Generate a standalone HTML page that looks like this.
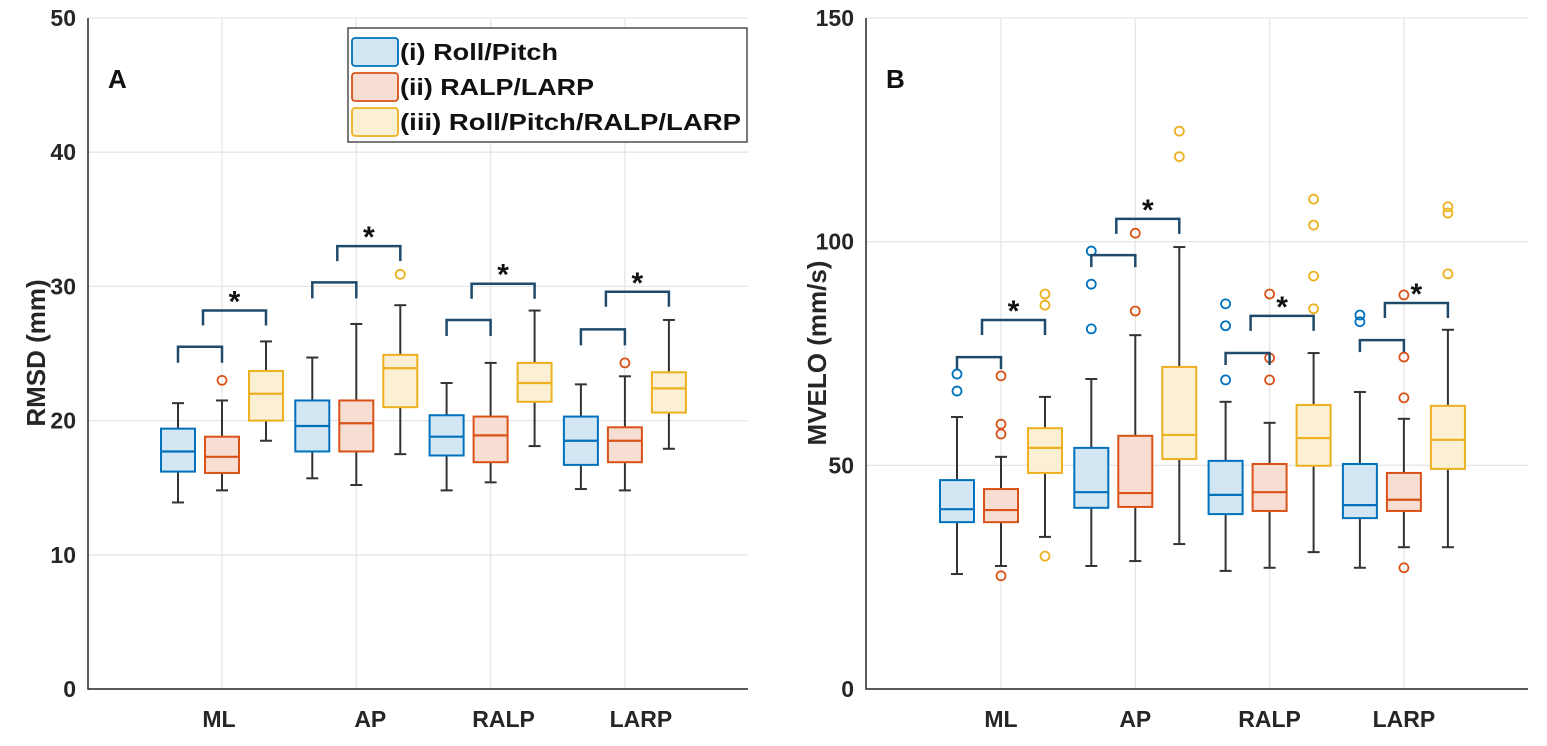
<!DOCTYPE html>
<html><head><meta charset="utf-8"><style>
body{margin:0;background:#fff;width:1547px;height:741px;overflow:hidden}
svg{font-family:"Liberation Sans",Arial,sans-serif}
</style></head><body>
<svg id="chart" width="1547" height="741" viewBox="0 0 1547 741"></svg>
<script>
const categories=["ML","AP","RALP","LARP"];
const groups=["(i) Roll/Pitch","(ii) RALP/LARP","(iii) Roll/Pitch/RALP/LARP"];
// Panel A RMSD: [whiskerLow,Q1,median,Q3,whiskerHigh] per category per group
const rmsdBlue=[[13.9,16.2,17.7,19.4,21.3],[15.7,17.7,19.6,21.5,24.7],[14.8,17.4,18.8,20.4,22.8],[14.9,16.7,18.5,20.3,22.7]];
const rmsdRed=[[14.8,16.1,17.3,18.8,21.5],[15.2,17.7,19.8,21.5,27.2],[15.4,16.9,18.9,20.3,24.3],[14.8,16.9,18.5,19.5,23.3]];
const rmsdYellow=[[18.5,20.0,22.0,23.7,25.9],[17.5,21.0,23.9,24.9,28.6],[18.1,21.4,22.8,24.3,28.2],[17.9,20.6,22.4,23.6,27.5]];
const rmsdOutBlue=[[],[],[],[]];
const rmsdOutRed=[[23.0],[],[],[24.3]];
const rmsdOutYellow=[[],[30.9],[],[]];
const rmsdSmallBracket=[25.5,30.3,27.5,26.8];
const rmsdBigBracket=[28.2,33.0,30.2,29.6];
// Panel B MVELO
const mveloBlue=[[25.7,37.3,40.2,46.7,60.8],[27.5,40.5,44.0,53.9,69.3],[26.4,39.1,43.4,51.0,64.2],[27.1,38.2,41.1,50.3,66.4]];
const mveloRed=[[27.5,37.3,40.0,44.7,51.9],[28.6,40.7,43.8,56.6,79.1],[27.1,39.8,44.0,50.3,59.5],[31.7,39.8,42.3,48.3,60.4]];
const mveloYellow=[[34.0,48.3,53.9,58.3,65.3],[32.4,51.4,56.8,72.0,98.8],[30.6,49.9,56.1,63.5,75.1],[31.7,49.2,55.7,63.3,80.3]];
const mveloOutBlue=[[70.4,66.6],[97.9,90.5,80.5],[86.1,81.2,69.1],[83.6,82.1]];
const mveloOutRed=[[70.0,59.2,57.0,25.3],[101.9,84.5],[88.3,74.0,69.1],[88.1,74.2,65.1,27.1]];
const mveloOutYellow=[[88.3,85.8,29.7],[124.7,119.0],[109.5,103.7,92.3,85.0],[107.8,106.4,92.8]];
const mveloSmallBracket=[74.2,97.0,75.1,78.0];
const mveloBigBracket=[82.5,105.1,83.4,86.3];
const ticksA=[0,10,20,30,40,50];
const ticksB=[0,50,100,150];

const NS="http://www.w3.org/2000/svg";
const svg=document.getElementById('chart');
function el(tag,attrs,parent,text){const e=document.createElementNS(NS,tag);for(const k in attrs)e.setAttribute(k,attrs[k]);if(text!==undefined)e.textContent=text;(parent||svg).appendChild(e);return e;}
const edge=["#0072BD","#D95319","#EDB120"],fill=["#d3e6f4","#f8ddd2","#fbf0d3"];
function panel(p){
  const g=el('g',{});
  
  
  const y=v=>689-(v-0)/p.max*671;
  const cx=i=>p.c0+i*134.3;
  p.ticks.forEach(t=>{
    const l=el('line',{x1:p.x0,x2:p.x1,y1:y(t),y2:y(t),stroke:'#e6e6e6','stroke-width':1.3},g);
    
    const tx=el('text',{x:p.x0-12,y:y(t)+8,'text-anchor':'end','font-size':23,'font-weight':'bold',fill:'#262626'},g,String(t));
    
  });
  categories.forEach((c,i)=>{
    const l=el('line',{x1:cx(i),x2:cx(i),y1:18,y2:689,stroke:'#e6e6e6','stroke-width':1.3},g);
    
    const tx=el('text',{x:cx(i)+p.lab[i],y:727,'text-anchor':'middle','font-size':23,'font-weight':'bold',fill:'#262626'},g,c);
    
  });
  const ax=el('path',{d:`M${p.x0},18V689H${p.x1}`,fill:'none',stroke:'#262626','stroke-width':1.5},g);
  
  const yl=el('text',{transform:`translate(${p.yl},353) rotate(-90)`,'text-anchor':'middle','font-size':26,'font-weight':'bold',fill:'#262626'},g,p.ylabel);
  
  const pl=el('text',{x:p.x0+20,y:88,'font-size':26,'font-weight':'bold',fill:'#111'},g,p.letter);
  
  [p.b,p.r,p.yw].forEach((ser,k)=>{
    ser.forEach((s,i)=>{
      const x=cx(i)+(k-1)*44,w=17;
      const bg=el('g',{},g);
      
      
      el('line',{x1:x,x2:x,y1:y(s[0]),y2:y(s[1]),stroke:'#333','stroke-width':2},bg);
      el('line',{x1:x,x2:x,y1:y(s[3]),y2:y(s[4]),stroke:'#333','stroke-width':2},bg);
      el('line',{x1:x-6,x2:x+6,y1:y(s[0]),y2:y(s[0]),stroke:'#333','stroke-width':2},bg);
      el('line',{x1:x-6,x2:x+6,y1:y(s[4]),y2:y(s[4]),stroke:'#333','stroke-width':2},bg);
      el('rect',{x:x-w,y:y(s[3]),width:2*w,height:y(s[1])-y(s[3]),fill:fill[k],stroke:edge[k],'stroke-width':2},bg);
      el('line',{x1:x-w,x2:x+w,y1:y(s[2]),y2:y(s[2]),stroke:edge[k],'stroke-width':2.2},bg);
    });
  });
  [p.ob,p.or,p.oy].forEach((ser,k)=>{
    ser.forEach((arr,i)=>arr.forEach(v=>{
      const c=el('circle',{cx:cx(i)+(k-1)*44,cy:y(v),r:4.5,fill:'none',stroke:edge[k],'stroke-width':1.8},g);
      
    }));
  });
  categories.forEach((c,i)=>{
    const t1=y(p.sb[i]),x1=cx(i)-44,x2=cx(i);
    const s=el('path',{d:`M${x1},${t1+p.leg}V${t1}H${x2}V${t1+p.leg}`,fill:'none',stroke:'#1f4a6b','stroke-width':2.5},g);
    
    const t2=y(p.bb[i]),x3=cx(i)-19,x4=cx(i)+44;
    const b=el('path',{d:`M${x3},${t2+15}V${t2}H${x4}V${t2+15}`,fill:'none',stroke:'#1f4a6b','stroke-width':2.5},g);
    
    const st=el('text',{x:(x3+x4)/2,y:t2+1,'text-anchor':'middle','font-size':30,'font-weight':'bold',fill:'#111'},g,'*');
    
  });
}
panel({name:'panel-a-rmsd',x0:88,x1:748,c0:222,max:50,ticks:ticksA,lab:[-3,14,13,16],yl:45,ylabel:'RMSD (mm)',letter:'A',
  b:rmsdBlue,r:rmsdRed,yw:rmsdYellow,ob:rmsdOutBlue,or:rmsdOutRed,oy:rmsdOutYellow,sb:rmsdSmallBracket,bb:rmsdBigBracket,leg:16});
panel({name:'panel-b-mvelo',x0:866,x1:1528,c0:1001,max:150,ticks:ticksB,lab:[0,0,0,0],yl:826,ylabel:'MVELO (mm/s)',letter:'B',
  b:mveloBlue,r:mveloRed,yw:mveloYellow,ob:mveloOutBlue,or:mveloOutRed,oy:mveloOutYellow,sb:mveloSmallBracket,bb:mveloBigBracket,leg:12});
// legend
const legendLen=[158,194,341];
const lg=el('g',{});


el('rect',{x:348,y:28,width:399,height:114,fill:'#fff',stroke:'#333','stroke-width':1.3},lg);
groups.forEach((n,k)=>{
  const cy=52+k*35;
  const e=el('g',{},lg);
  
  
  el('rect',{x:352,y:cy-14,width:46,height:28,rx:3,fill:fill[k],stroke:edge[k],'stroke-width':1.8},e);
  el('text',{x:400,y:cy+8,'font-size':23,'font-weight':'bold',fill:'#111',textLength:legendLen[k],lengthAdjust:'spacingAndGlyphs'},e,n);
});
</script>
</body></html>
